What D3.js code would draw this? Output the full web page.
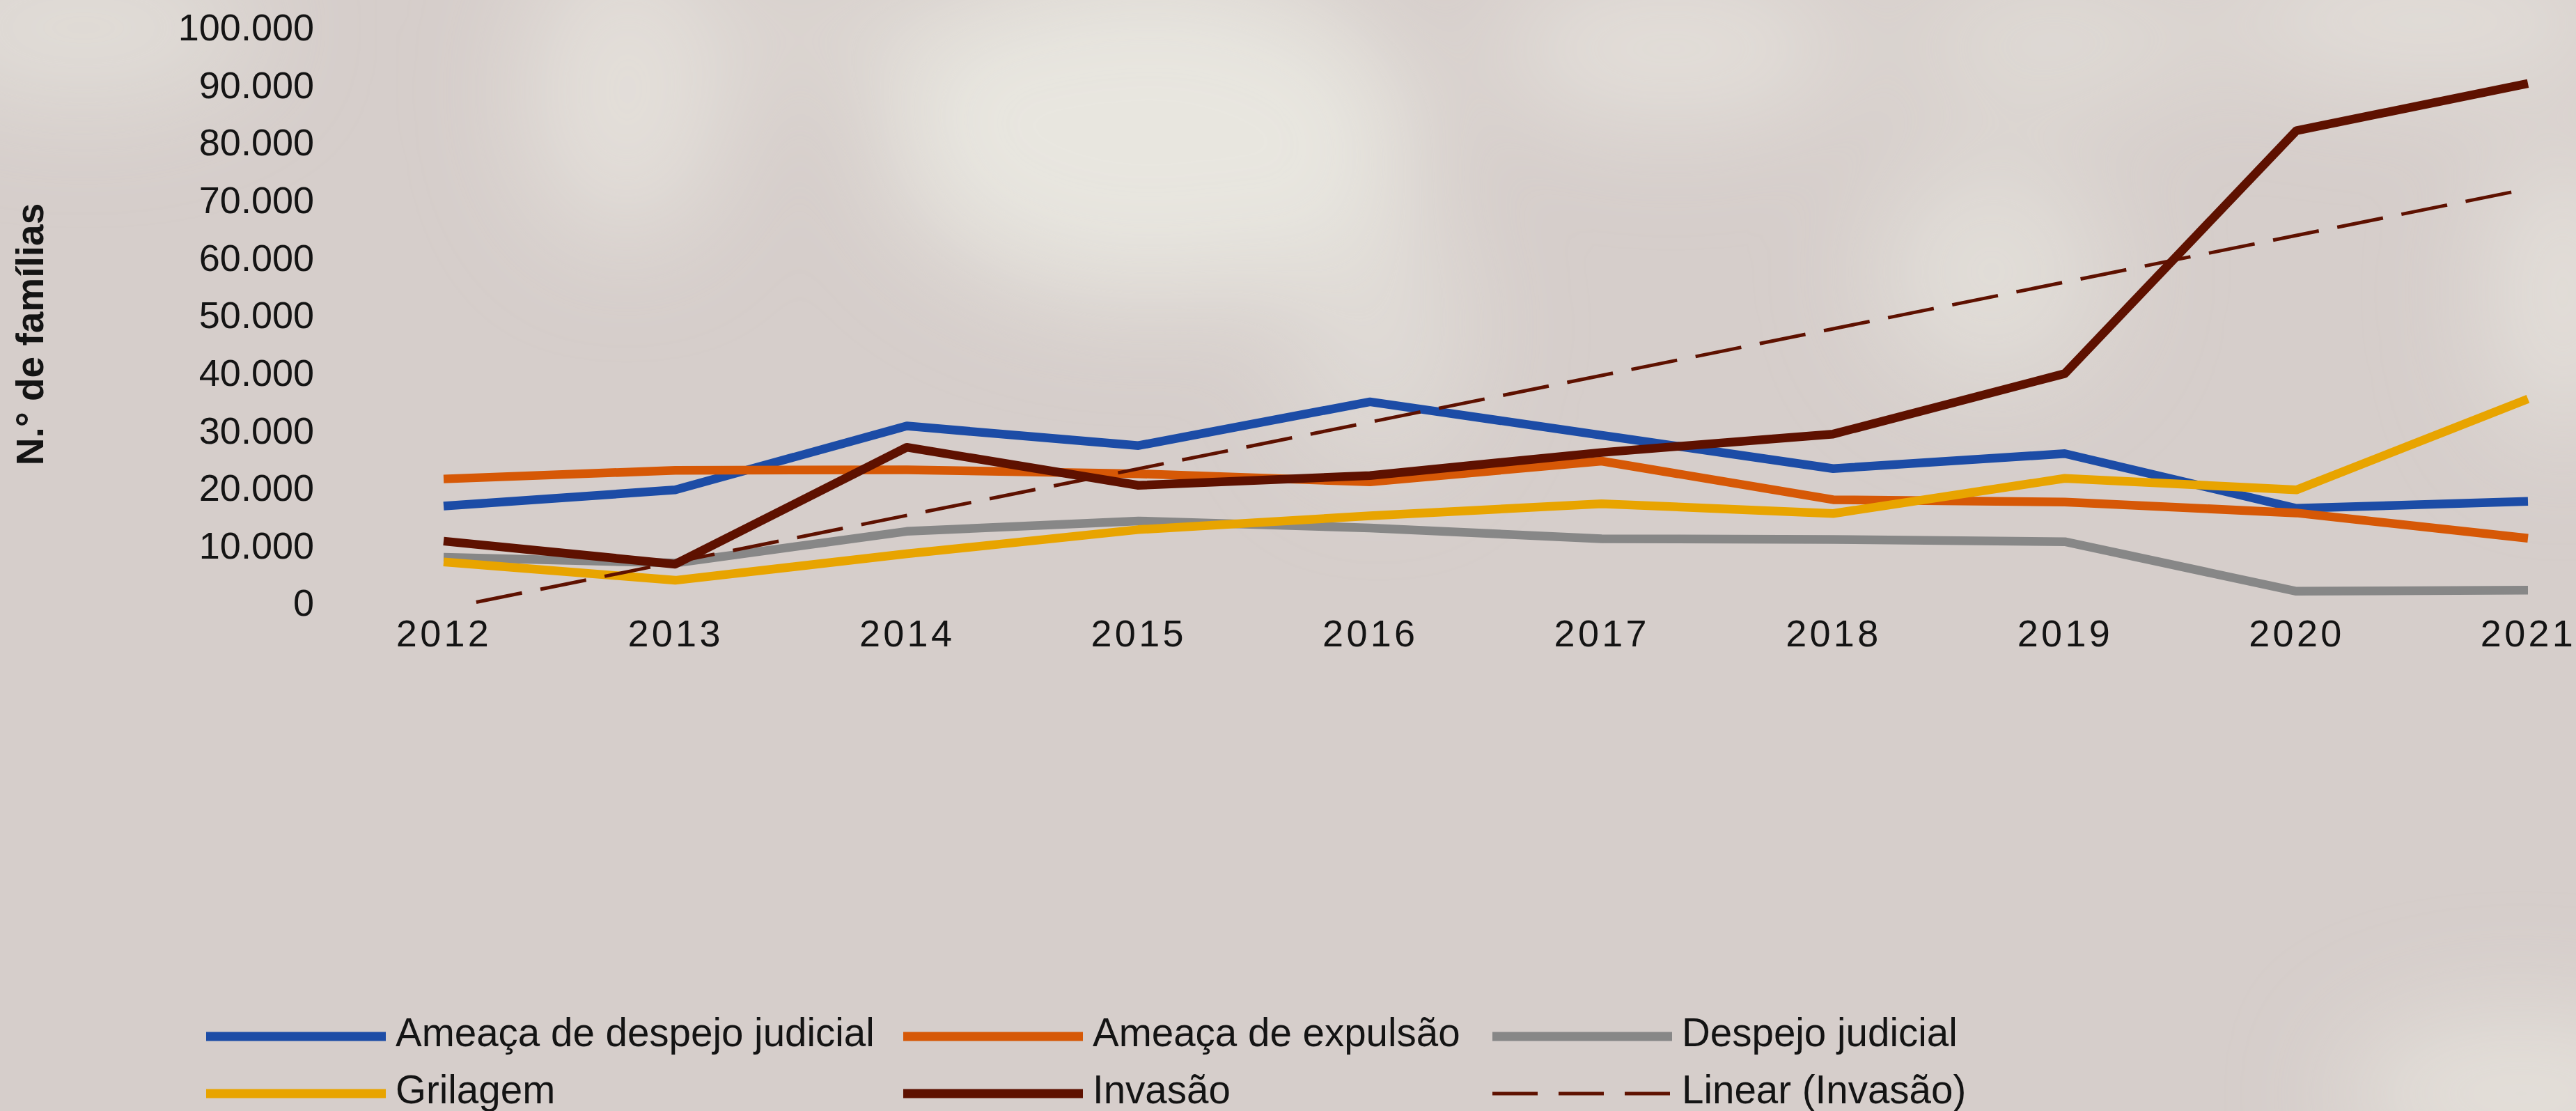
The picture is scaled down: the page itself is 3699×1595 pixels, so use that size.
<!DOCTYPE html>
<html>
<head>
<meta charset="utf-8">
<script src="https://cdn.jsdelivr.net/npm/d3@7"></script>
<style>
  body { margin: 0; background: #d6cecb; }
  svg { display: block; }
  text { font-family: "Liberation Sans", Arial, sans-serif; fill: #141414; }
</style>
</head>
<body>
<div id="chart"></div>
<script>
/* -------------- DATA -------------- */
const years = ["2012", "2013", "2014", "2015", "2016", "2017", "2018", "2019", "2020", "2021"]

const ameacaDespejo  = [16700, 19500, 30600, 27200, 34800, 29000, 23200, 25800, 16300, 17500]
const ameacaExpulsao = [21400, 22900, 23000, 22300, 20900, 24500, 17800, 17400, 15500, 11100]
const despejoJudicial = [7800, 6800, 12300, 14100, 12900, 11000, 10900, 10500, 1900, 2100]
const grilagem       = [7000, 3800, 8400, 12600, 15000, 17100, 15400, 21500, 19500, 35300]
const invasao        = [10600, 6600, 26900, 20300, 22000, 26000, 29200, 39700, 81900, 90100]

const seriesNames  = ["Ameaça de despejo judicial", "Ameaça de expulsão", "Despejo judicial", "Grilagem", "Invasão"]
const seriesColors = ["#1c4ca6", "#d65806", "#878787", "#e8a400", "#5e1100"]
const trendName  = "Linear (Invasão)"
const trendColor = "#5e1100"

const yTicks = [0, 10000, 20000, 30000, 40000, 50000, 60000, 70000, 80000, 90000, 100000]
const yTitle = "N.° de famílias"

const series = [ameacaDespejo, ameacaExpulsao, despejoJudicial, grilagem, invasao]
  .map(function(values, i) { return {name: seriesNames[i], color: seriesColors[i], values: values} })

var width = 3699, height = 1595

var svg = d3.select("#chart")
  .append("svg")
    .attr("width", width)
    .attr("height", height)

/* -------------- BACKGROUND (blurred photo look) -------------- */
var defs = svg.append("defs")
defs.append("filter")
    .attr("id", "blur")
    .attr("x", "-50%").attr("y", "-50%").attr("width", "200%").attr("height", "200%")
  .append("feGaussianBlur")
    .attr("stdDeviation", 80)

svg.append("rect")
  .attr("width", width).attr("height", height)
  .attr("fill", "#d6cecb")

const blobs = [
  [120, 40, 260, 110, 0.5], [900, 130, 150, 220, 0.55], [1650, 190, 380, 240, 0.75],
  [1980, 470, 130, 200, 0.4], [2400, 70, 260, 110, 0.55], [2860, 390, 170, 170, 0.5],
  [2950, 60, 220, 90, 0.45], [3480, 30, 300, 90, 0.55], [3680, 420, 110, 220, 0.55],
  [3620, 1570, 260, 110, 0.6], [1250, 40, 200, 60, 0.35]
]
svg.append("g")
    .attr("filter", "url(#blur)")
  .selectAll("ellipse")
  .data(blobs)
  .enter()
  .append("ellipse")
    .attr("cx", function(d) { return d[0] })
    .attr("cy", function(d) { return d[1] })
    .attr("rx", function(d) { return d[2] })
    .attr("ry", function(d) { return d[3] })
    .attr("fill", "#eeede5")
    .attr("opacity", function(d) { return d[4] })

/* -------------- SCALES -------------- */
var x = d3.scalePoint()
  .domain(years)
  .range([637, 3630])

// same positions, but by index, for the trendline
var xi = d3.scaleLinear()
  .domain([0, years.length - 1])
  .range(x.range())

var y = d3.scaleLinear()
  .domain([0, 100000])
  .range([864.5, 38])

const fmt = d3.formatLocale({decimal: ",", thousands: ".", grouping: [3], currency: ["R$", ""]}).format(",")

/* -------------- AXES -------------- */
var yAxis = svg.append("g")
  .attr("transform", "translate(451,0)")
  .call(d3.axisLeft(y).tickValues(yTicks).tickFormat(fmt).tickSize(0).tickPadding(0))
yAxis.select(".domain").remove()
yAxis.selectAll("text")
  .attr("font-family", "Liberation Sans, Arial, sans-serif")
  .attr("font-size", 54)
  .attr("fill", "#141414")
  .attr("dy", "0.36em")

var xAxis = svg.append("g")
  .attr("transform", "translate(0,890)")
  .call(d3.axisBottom(x).tickSize(0).tickPadding(0))
xAxis.select(".domain").remove()
xAxis.selectAll("text")
  .attr("font-family", "Liberation Sans, Arial, sans-serif")
  .attr("font-size", 54)
  .attr("fill", "#141414")
  .attr("letter-spacing", 4.3)

svg.append("text")
  .attr("transform", "translate(62,480) rotate(-90)")
  .attr("text-anchor", "middle")
  .attr("font-size", 55)
  .attr("font-weight", "bold")
  .text(yTitle)

/* -------------- LINES -------------- */
var line = d3.line()
  .x(function(d, i) { return x(years[i]) })
  .y(function(d) { return y(d) })

svg.append("g")
  .selectAll("path")
  .data(series)
  .enter()
  .append("path")
    .attr("d", function(d) { return line(d.values) })
    .attr("fill", "none")
    .attr("stroke", function(d) { return d.color })
    .attr("stroke-width", 12.5)
    .attr("stroke-linejoin", "round")

// least squares trend of Invasão, cut where it meets the 0 axis
var idx = d3.range(invasao.length)
var mx = d3.mean(idx), my = d3.mean(invasao)
var slope = d3.sum(idx, function(i) { return (i - mx) * (invasao[i] - my) }) /
            d3.sum(idx, function(i) { return (i - mx) * (i - mx) })
var intercept = my - slope * mx
var t0 = Math.max(0, -intercept / slope), t1 = invasao.length - 1

svg.append("line")
  .attr("x1", xi(t0)).attr("y1", y(intercept + slope * t0))
  .attr("x2", xi(t1)).attr("y2", y(intercept + slope * t1))
  .attr("stroke", trendColor)
  .attr("stroke-width", 5)
  .attr("stroke-dasharray", "67,27")

/* -------------- LEGEND -------------- */
const legendItems = series.map(function(d) { return {name: d.name, color: d.color, dash: null} })
legendItems.push({name: trendName, color: trendColor, dash: "65,30"})

var colX = [296, 1297, 2143], rowY = [1488, 1570]

var legend = svg.append("g")
  .selectAll("g")
  .data(legendItems)
  .enter()
  .append("g")
    .attr("transform", function(d, i) { return "translate(" + colX[i % 3] + "," + rowY[Math.floor(i / 3)] + ")" })

legend.append("line")
  .attr("x1", 0).attr("x2", 258)
  .attr("stroke", function(d) { return d.color })
  .attr("stroke-width", function(d) { return d.dash ? 5 : 13 })
  .attr("stroke-dasharray", function(d) { return d.dash })

legend.append("text")
  .attr("x", 272)
  .attr("y", 14)
  .attr("font-size", 56.5)
  .text(function(d) { return d.name })
</script>
</body>
</html>
